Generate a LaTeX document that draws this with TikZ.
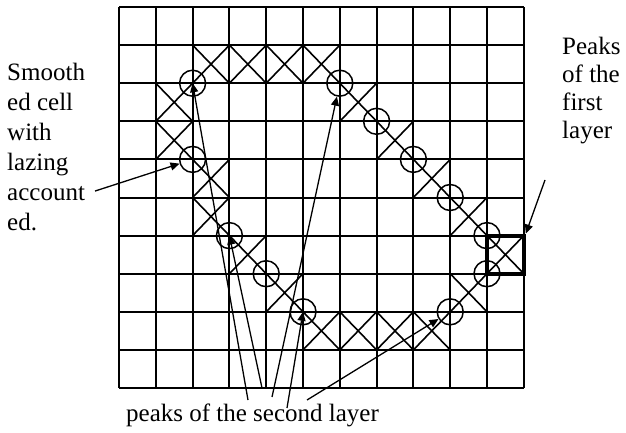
\documentclass[tikz,border=0pt]{standalone}
\usepackage{fontspec}
\setmainfont{Liberation Serif}
\usetikzlibrary{arrows.meta,positioning}

\begin{document}
\begin{tikzpicture}[x=36.8pt, y=-38.1pt, >={Triangle[length=9pt,width=8pt]},
  font=\fontsize{25}{30}\selectfont,
  gridline/.style={line width=2pt},
  cross/.style={line width=1.6pt},
  peak/.style={draw, circle, line width=1.5pt, minimum size=26pt, inner sep=0pt},
  lbl/.style={align=left, inner sep=0pt},
  pointer/.style={->, line width=1.3pt}]
\useasboundingbox (-3.234,-0.184) rectangle (13.777,11.155);
% mesh of cells
\foreach \i in {0,...,11} \draw[gridline] (\i,0) -- (\i,10);
\foreach \j in {0,...,10} \draw[gridline] (0,\j) -- (11,\j);
% smoothed cells
\foreach \c/\r in {2/1,3/1,4/1,5/1,1/2,6/2,1/3,7/3,2/4,8/4,2/5,9/5,3/6,10/6,4/7,9/7,5/8,6/8,7/8,8/8}
  \draw[cross] (\c,\r) -- ++(1,1) (\c+1,\r) -- ++(-1,1);
\node[draw, line width=4pt, minimum width=36.8pt, minimum height=38.1pt, inner sep=0pt] (first) at (10.5,6.5) {};
% peaks of the second layer
\foreach \c/\r in {2/2,2/4,3/6,4/7,5/8,6/2,7/3,8/4,9/5,10/6,10/7,9/8}
  \node[peak] (c\c\r) at (\c,\r) {};
% labels
\node[lbl, anchor=north west] (smooth) at (-3.043,1.47) {Smooth\\ed cell\\with\\lazing\\account\\ed.};
\node[lbl, anchor=north west, font=\fontsize{25}{28}\selectfont] (firstlbl) at (12.038,0.79) {Peaks\\of the\\first\\layer};
\node[lbl, anchor=base] (second) at (3.628,10.89) {peaks of the second layer};
\coordinate (s1) at (3.505,10.315);
\coordinate (s2) at (3.886,10.0);
\coordinate (s3) at (4.158,10.236);
\coordinate (s4) at (4.565,10.525);
\coordinate (s5) at (5.109,10.315);
\coordinate (sm) at (-0.65,4.83);
\coordinate (fl) at (11.576,4.54);
\draw[pointer] (s1) -- (c22.center);
\draw[pointer] (s2) -- (c36.center);
\draw[pointer] (s3) -- (c62);
\draw[pointer] (s4) -- (c58.center);
\draw[pointer] (s5) -- (c98);
\draw[pointer] (sm) -- (c24);
\draw[pointer] (fl) -- (first.north east);
\end{tikzpicture}
\end{document}
